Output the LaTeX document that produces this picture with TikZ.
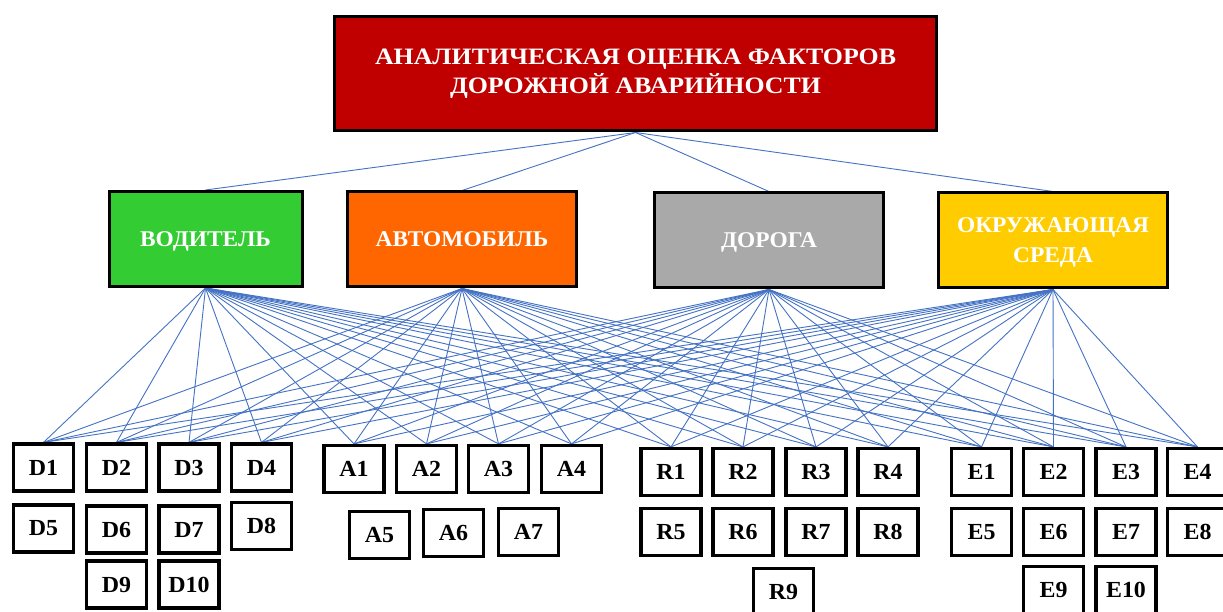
\documentclass[tikz,border=0pt]{standalone}
\usepackage{fontspec}
\setmainfont{Liberation Serif}
\newfontfamily\topfont[FakeStretch=1.10]{Liberation Serif}
\newfontfamily\catfont[FakeStretch=1.04]{Liberation Serif}
\usetikzlibrary{backgrounds}
\definecolor{topred}{HTML}{C00000}
\definecolor{drvgreen}{HTML}{33CC33}
\definecolor{carorange}{HTML}{FF6600}
\definecolor{roadgray}{HTML}{A9A9A9}
\definecolor{envyellow}{HTML}{FFCC00}
\definecolor{linkblue}{HTML}{4472C4}
\begin{document}
\begin{tikzpicture}[x=1pt,y=-1pt,
  fbox/.style={draw=black, line width=3.2pt, inner sep=0pt, fill=white,
    font=\catfont\bfseries\fontsize{23}{26}\selectfont, minimum width=60pt, minimum height=47pt},
  catbox/.style={draw=black, line width=3pt, inner sep=0pt, text=white, align=center,
    text depth=0pt, font=\catfont\bfseries\fontsize{22.5}{30}\selectfont, minimum height=95pt},
  topbox/.style={draw=black, line width=3pt, inner sep=0pt, text=white, align=center,
    fill=topred, font=\topfont\bfseries\fontsize{23.5}{29}\selectfont, minimum width=602pt, minimum height=114pt},
  link/.style={draw=linkblue, line width=0.9pt}]
\useasboundingbox (0,0) rectangle (1223,612);

\node[topbox] (top) at (635.5,74) {АНАЛИТИЧЕСКАЯ ОЦЕНКА ФАКТОРОВ\\ДОРОЖНОЙ АВАРИЙНОСТИ};

\node[catbox, fill=drvgreen, minimum width=193pt] (cV) at (205.5,239) {ВОДИТЕЛЬ};
\node[catbox, fill=carorange, minimum width=229pt] (cA) at (462,239.5) {АВТОМОБИЛЬ};
\node[catbox, fill=roadgray, minimum width=229pt] (cR) at (769,240.5) {ДОРОГА};
\node[catbox, fill=envyellow, minimum width=229pt] (cE) at (1053,240.5) {ОКРУЖАЮЩАЯ\\СРЕДА};

% driver factors
\node[fbox] (D1) at (43.5,467.5) {D1};
\node[fbox] (D2) at (116.5,467.5) {D2};
\node[fbox] (D3) at (189,467.5) {D3};
\node[fbox] (D4) at (261.5,467.5) {D4};
\node[fbox] (D5) at (43.5,528.5) {D5};
\node[fbox] (D6) at (116.5,529.5) {D6};
\node[fbox] (D7) at (189,529.5) {D7};
\node[fbox] (D8) at (261.5,526) {D8};
\node[fbox] (D9) at (116.5,584.5) {D9};
\node[fbox] (D10) at (189,584.5) {D10};
% vehicle factors
\node[fbox] (A1) at (354,469) {A1};
\node[fbox] (A2) at (426.5,469) {A2};
\node[fbox] (A3) at (498.5,469) {A3};
\node[fbox] (A4) at (571.5,469) {A4};
\node[fbox] (A5) at (379.5,535) {A5};
\node[fbox] (A6) at (453.5,533) {A6};
\node[fbox] (A7) at (528.5,532) {A7};
% road factors
\node[fbox] (R1) at (671,472) {R1};
\node[fbox] (R2) at (743,472) {R2};
\node[fbox] (R3) at (816,472) {R3};
\node[fbox] (R4) at (888,472) {R4};
\node[fbox] (R5) at (671,532) {R5};
\node[fbox] (R6) at (743,532) {R6};
\node[fbox] (R7) at (816,532) {R7};
\node[fbox] (R8) at (888,532) {R8};
\node[fbox] (R9) at (783.5,592) {R9};
% environment factors
\node[fbox] (E1) at (981.5,472) {E1};
\node[fbox] (E2) at (1053.5,472) {E2};
\node[fbox] (E3) at (1126,472) {E3};
\node[fbox] (E4) at (1197.5,472) {E4};
\node[fbox] (E5) at (981.5,532) {E5};
\node[fbox] (E6) at (1053.5,532) {E6};
\node[fbox] (E7) at (1126,532) {E7};
\node[fbox] (E8) at (1197.5,532) {E8};
\node[fbox] (E9) at (1053.5,590) {E9};
\node[fbox] (E10) at (1126,590) {E10};

\begin{scope}[on background layer]
  \fill[white] (0,0) rectangle (1223,612);
  \foreach \c in {cV,cA,cR,cE}
    \draw[link] (top.south) -- (\c.north);
  \foreach \c in {cV,cA,cR,cE}
    \foreach \t in {D1,D2,D3,D4,A1,A2,A3,A4,R1,R2,R3,R4,E1,E2,E3,E4}
      \draw[link] (\c.south) -- (\t.north);
\end{scope}
\end{tikzpicture}
\end{document}
